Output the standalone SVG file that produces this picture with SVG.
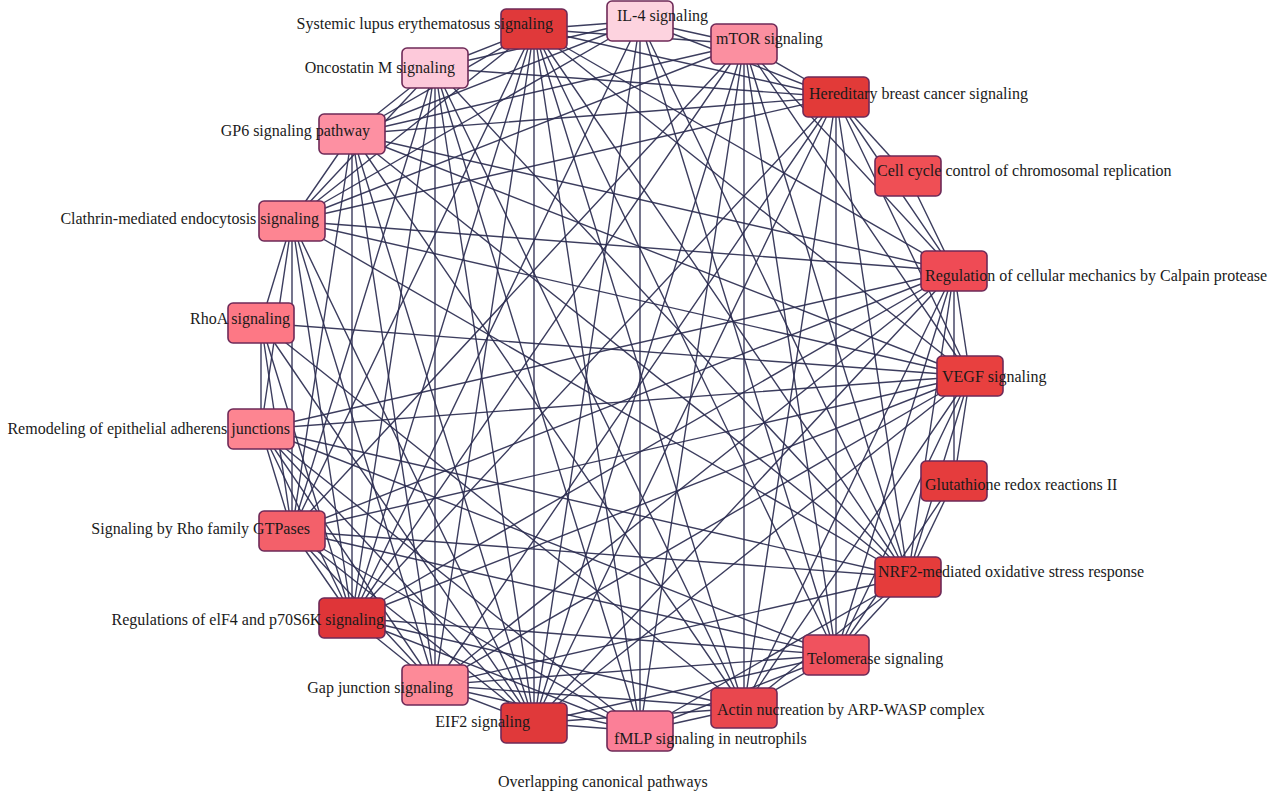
<svg xmlns="http://www.w3.org/2000/svg" width="1276" height="794" viewBox="0 0 1276 794">
<style>
.e{fill:none;stroke:#2b2c50;stroke-width:1.4;stroke-opacity:0.92}
.n{stroke:#6e2a58;stroke-width:1.6}
.t{font-family:"Liberation Serif","Times New Roman",serif;font-size:16px;fill:#1a1a1a}
.r{text-anchor:end}
</style>
<rect width="1276" height="794" fill="#ffffff"/>
<g id="edges">
<path class="e" d="M970 376L954 271M970 376L836 97M970 376L744 44M970 376L534 29M970 376L352 134M970 376L292 221M970 376L261 323M970 376L261 429M970 376L292 531M970 376L352 618M970 376L435 685M970 376L534 723M970 376L744 708M970 376L836 655M970 376L908 577M970 376L954 481"/>
<path class="e" d="M954 271L908 176M954 271L836 97M954 271L744 44M954 271L534 29M954 271L352 134M954 271L292 221M954 271L261 429M954 271L292 531M954 271L352 618M954 271L435 685M954 271L534 723M954 271L744 708M954 271L836 655M954 271L908 577M954 271L954 481"/>
<path class="e" d="M908 176L836 97"/>
<path class="e" d="M836 97L744 44M836 97L640 21M836 97L534 29M836 97L435 68M836 97L352 134M836 97L292 221M836 97L352 618M836 97L435 685M836 97L534 723M836 97L744 708M836 97L836 655M836 97L908 577"/>
<path class="e" d="M744 44L640 21M744 44L534 29M744 44L352 134M744 44L292 221M744 44L292 531M744 44L352 618M744 44L534 723M744 44L640 731M744 44L744 708M744 44L836 655M744 44L908 577"/>
<path class="e" d="M640 21L534 29M640 21L435 68M640 21L352 134M640 21L292 221M640 21L352 618M640 21L534 723M640 21L640 731M640 21L836 655M640 21L908 577"/>
<path class="e" d="M534 29L435 68M534 29L352 134M534 29L292 221M534 29L292 531M534 29L352 618M534 29L435 685M534 29L534 723M534 29L640 731M534 29L744 708M534 29L836 655M534 29L908 577"/>
<path class="e" d="M435 68L352 134M435 68L292 221M435 68L292 531M435 68L352 618M435 68L435 685M435 68L534 723M435 68L640 731M435 68L744 708M435 68L908 577"/>
<path class="e" d="M352 134L292 221M352 134L292 531M352 134L352 618M352 134L435 685M352 134L534 723M352 134L744 708M352 134L908 577"/>
<path class="e" d="M292 221L261 323M292 221L261 429M292 221L292 531M292 221L352 618M292 221L435 685M292 221L534 723M292 221L908 577"/>
<path class="e" d="M261 323L261 429M261 323L292 531M261 323L352 618M261 323L534 723M261 323L744 708"/>
<path class="e" d="M261 429L292 531M261 429L352 618M261 429L435 685M261 429L534 723M261 429L640 731M261 429L836 655M261 429L908 577"/>
<path class="e" d="M292 531L352 618M292 531L435 685M292 531L534 723M292 531L640 731M292 531L836 655M292 531L908 577"/>
<path class="e" d="M352 618L435 685M352 618L640 731M352 618L744 708M352 618L836 655"/>
<path class="e" d="M435 685L534 723M435 685L640 731M435 685L744 708M435 685L836 655M435 685L908 577"/>
<path class="e" d="M534 723L640 731M534 723L744 708M534 723L836 655"/>
<path class="e" d="M640 731L744 708M640 731L836 655M640 731L908 577"/>
<path class="e" d="M744 708L836 655M744 708L908 577"/>
<path class="e" d="M836 655L908 577M836 655L954 481"/>
<path class="e" d="M908 577L954 481"/>
</g>
<g id="n-vegf"><rect class="n" x="937" y="356" width="66" height="40" rx="5" fill="#e8403f"/><text class="t" x="942" y="382">VEGF signaling</text></g>
<g id="n-calpain"><rect class="n" x="921" y="251" width="66" height="40" rx="5" fill="#ef4b55"/><text class="t" x="925" y="281">Regulation of cellular mechanics by Calpain protease</text></g>
<g id="n-cellcycle"><rect class="n" x="875" y="156" width="66" height="40" rx="5" fill="#ef4f55"/><text class="t" x="877" y="176">Cell cycle control of chromosomal replication</text></g>
<g id="n-hereditary"><rect class="n" x="803" y="77" width="66" height="40" rx="5" fill="#e23a38"/><text class="t" x="809" y="99">Hereditary breast cancer signaling</text></g>
<g id="n-mtor"><rect class="n" x="711" y="24" width="66" height="40" rx="5" fill="#fb8fa0"/><text class="t" x="716" y="44">mTOR signaling</text></g>
<g id="n-il4"><rect class="n" x="607" y="1" width="66" height="40" rx="5" fill="#fdd3df"/><text class="t" x="617" y="21">IL-4 signaling</text></g>
<g id="n-sle"><rect class="n" x="501" y="9" width="66" height="40" rx="5" fill="#e0393a"/><text class="t r" x="553" y="29">Systemic lupus erythematosus signaling</text></g>
<g id="n-oncostatin"><rect class="n" x="402" y="48" width="66" height="40" rx="5" fill="#fdc9da"/><text class="t r" x="455" y="73">Oncostatin M signaling</text></g>
<g id="n-gp6"><rect class="n" x="319" y="114" width="66" height="40" rx="5" fill="#fd90a2"/><text class="t r" x="370" y="136">GP6 signaling pathway</text></g>
<g id="n-clathrin"><rect class="n" x="259" y="201" width="66" height="40" rx="5" fill="#fd8592"/><text class="t r" x="319" y="224">Clathrin-mediated endocytosis signaling</text></g>
<g id="n-rhoa"><rect class="n" x="228" y="303" width="66" height="40" rx="5" fill="#fd7885"/><text class="t r" x="290" y="324">RhoA signaling</text></g>
<g id="n-remodeling"><rect class="n" x="228" y="409" width="66" height="40" rx="5" fill="#fd8591"/><text class="t r" x="290" y="434">Remodeling of epithelial adherens junctions</text></g>
<g id="n-rhogtp"><rect class="n" x="259" y="511" width="66" height="40" rx="5" fill="#f3606a"/><text class="t r" x="310" y="534">Signaling by Rho family GTPases</text></g>
<g id="n-eif4"><rect class="n" x="319" y="598" width="66" height="40" rx="5" fill="#df3538"/><text class="t r" x="384" y="625">Regulations of elF4 and p70S6K signaling</text></g>
<g id="n-gap"><rect class="n" x="402" y="665" width="66" height="40" rx="5" fill="#fd8a98"/><text class="t r" x="453" y="693">Gap junction signaling</text></g>
<g id="n-eif2"><rect class="n" x="501" y="703" width="66" height="40" rx="5" fill="#e0393a"/><text class="t r" x="530" y="727">EIF2 signaling</text></g>
<g id="n-fmlp"><rect class="n" x="607" y="711" width="66" height="40" rx="5" fill="#fb7f97"/><text class="t" x="614" y="744">fMLP signaling in neutrophils</text></g>
<g id="n-actin"><rect class="n" x="711" y="688" width="66" height="40" rx="5" fill="#e9474e"/><text class="t" x="717" y="715">Actin nucreation by ARP-WASP complex</text></g>
<g id="n-telomerase"><rect class="n" x="803" y="635" width="66" height="40" rx="5" fill="#f0525e"/><text class="t" x="807" y="664">Telomerase signaling</text></g>
<g id="n-nrf2"><rect class="n" x="875" y="557" width="66" height="40" rx="5" fill="#e53c3b"/><text class="t" x="878" y="577">NRF2-mediated oxidative stress response</text></g>
<g id="n-glutathione"><rect class="n" x="921" y="461" width="66" height="40" rx="5" fill="#e53c3d"/><text class="t" x="925" y="490">Glutathione redox reactions II</text></g>
<text class="t" x="498" y="787">Overlapping canonical pathways</text>
</svg>
